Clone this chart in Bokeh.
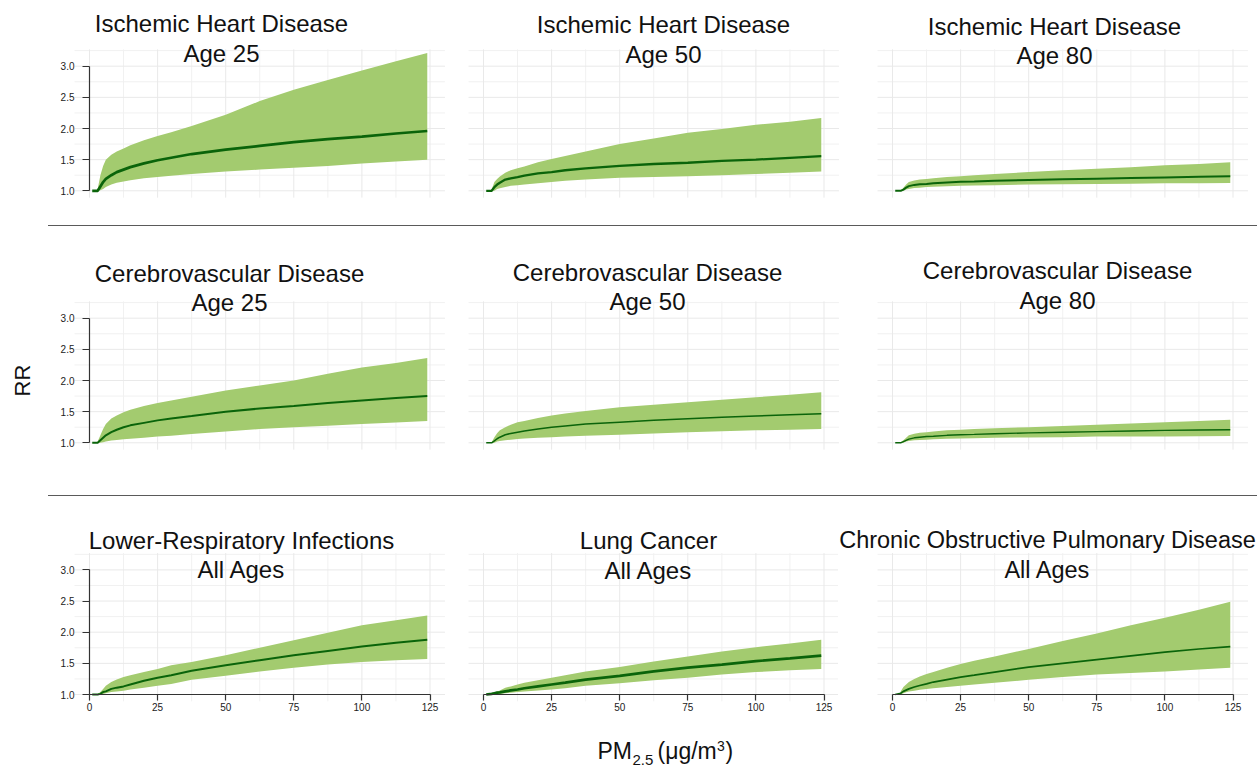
import math
from bokeh.plotting import figure
from bokeh.models import Range1d, FixedTicker, Label, Spacer, LinearAxis
from bokeh.layouts import row, column
from bokeh.embed import file_html
from bokeh.resources import INLINE

# ---------------- data ----------------
pm = [1, 3, 4, 5, 6, 8, 10, 12.5, 15, 20, 25, 30, 37.5, 50, 62.5, 75, 87.5, 100, 112.5, 124]

ihd25_mean  = [1.00, 1.00, 1.07, 1.14, 1.19, 1.25, 1.30, 1.34, 1.38, 1.44, 1.49, 1.53, 1.59, 1.66, 1.72, 1.78, 1.83, 1.87, 1.92, 1.96]
ihd25_upper = [1.00, 1.03, 1.25, 1.40, 1.50, 1.58, 1.63, 1.68, 1.73, 1.81, 1.88, 1.94, 2.04, 2.22, 2.44, 2.62, 2.78, 2.93, 3.08, 3.21]
ihd25_lower = [1.00, 1.00, 1.01, 1.03, 1.06, 1.10, 1.13, 1.15, 1.17, 1.20, 1.22, 1.24, 1.27, 1.31, 1.34, 1.37, 1.40, 1.44, 1.47, 1.50]

ihd50_mean  = [1.00, 1.00, 1.06, 1.10, 1.13, 1.18, 1.20, 1.22, 1.245, 1.28, 1.30, 1.33, 1.36, 1.40, 1.43, 1.45, 1.48, 1.50, 1.53, 1.555]
ihd50_upper = [1.00, 1.02, 1.14, 1.19, 1.23, 1.29, 1.33, 1.36, 1.39, 1.46, 1.51, 1.56, 1.63, 1.75, 1.84, 1.93, 1.99, 2.06, 2.11, 2.17]
ihd50_lower = [1.00, 1.00, 1.00, 1.03, 1.04, 1.06, 1.08, 1.09, 1.10, 1.12, 1.14, 1.16, 1.18, 1.21, 1.22, 1.235, 1.25, 1.27, 1.29, 1.31]

ihd80_mean  = [1.00, 1.00, 1.02, 1.05, 1.075, 1.095, 1.105, 1.11, 1.12, 1.135, 1.145, 1.15, 1.16, 1.175, 1.185, 1.195, 1.205, 1.215, 1.225, 1.235]
ihd80_upper = [1.00, 1.01, 1.05, 1.10, 1.14, 1.165, 1.18, 1.19, 1.20, 1.22, 1.235, 1.25, 1.27, 1.30, 1.33, 1.355, 1.38, 1.41, 1.43, 1.46]
ihd80_lower = [1.00, 1.00, 1.00, 1.02, 1.03, 1.045, 1.05, 1.06, 1.065, 1.075, 1.08, 1.085, 1.09, 1.10, 1.105, 1.11, 1.115, 1.12, 1.12, 1.125]

cvd25_mean  = [1.00, 1.00, 1.04, 1.08, 1.12, 1.17, 1.21, 1.25, 1.28, 1.32, 1.36, 1.39, 1.43, 1.50, 1.55, 1.59, 1.64, 1.68, 1.72, 1.75]
cvd25_upper = [1.00, 1.02, 1.12, 1.22, 1.30, 1.39, 1.44, 1.49, 1.53, 1.59, 1.64, 1.68, 1.74, 1.84, 1.92, 2.00, 2.11, 2.21, 2.28, 2.36]
cvd25_lower = [1.00, 1.00, 1.00, 1.01, 1.02, 1.035, 1.045, 1.055, 1.065, 1.08, 1.10, 1.115, 1.14, 1.18, 1.22, 1.25, 1.275, 1.30, 1.325, 1.35]

cvd50_mean  = [1.00, 1.00, 1.03, 1.065, 1.09, 1.13, 1.15, 1.17, 1.19, 1.22, 1.25, 1.27, 1.30, 1.33, 1.36, 1.385, 1.41, 1.43, 1.45, 1.465]
cvd50_upper = [1.00, 1.01, 1.09, 1.155, 1.20, 1.25, 1.29, 1.33, 1.35, 1.40, 1.44, 1.47, 1.51, 1.57, 1.61, 1.65, 1.69, 1.73, 1.77, 1.81]
cvd50_lower = [1.00, 1.00, 1.00, 1.02, 1.03, 1.04, 1.05, 1.06, 1.07, 1.08, 1.09, 1.10, 1.115, 1.13, 1.15, 1.17, 1.185, 1.20, 1.21, 1.22]

cvd80_mean  = [1.00, 1.00, 1.02, 1.04, 1.06, 1.08, 1.09, 1.10, 1.105, 1.12, 1.13, 1.135, 1.145, 1.16, 1.17, 1.18, 1.19, 1.20, 1.205, 1.21]
cvd80_upper = [1.00, 1.01, 1.04, 1.08, 1.12, 1.145, 1.16, 1.17, 1.18, 1.20, 1.21, 1.22, 1.235, 1.25, 1.27, 1.29, 1.31, 1.33, 1.35, 1.37]
cvd80_lower = [1.00, 1.00, 1.00, 1.02, 1.03, 1.04, 1.045, 1.05, 1.055, 1.065, 1.07, 1.075, 1.08, 1.085, 1.09, 1.10, 1.10, 1.10, 1.105, 1.11]

lri_mean  = [1.00, 1.00, 1.01, 1.04, 1.05, 1.09, 1.11, 1.13, 1.16, 1.22, 1.27, 1.31, 1.38, 1.47, 1.55, 1.63, 1.70, 1.77, 1.83, 1.88]
lri_upper = [1.00, 1.01, 1.04, 1.09, 1.14, 1.20, 1.24, 1.28, 1.31, 1.36, 1.41, 1.47, 1.52, 1.63, 1.75, 1.87, 1.99, 2.11, 2.19, 2.27]
lri_lower = [1.00, 1.00, 1.00, 1.01, 1.02, 1.04, 1.05, 1.06, 1.08, 1.11, 1.14, 1.17, 1.235, 1.30, 1.37, 1.43, 1.48, 1.52, 1.55, 1.57]

lc_mean  = [1.00, 1.01, 1.02, 1.03, 1.035, 1.05, 1.065, 1.08, 1.10, 1.13, 1.16, 1.19, 1.24, 1.30, 1.37, 1.43, 1.48, 1.535, 1.58, 1.625]
lc_upper = [1.00, 1.015, 1.03, 1.05, 1.065, 1.11, 1.13, 1.16, 1.19, 1.23, 1.27, 1.31, 1.37, 1.44, 1.53, 1.61, 1.69, 1.76, 1.82, 1.88]
lc_lower = [1.00, 1.00, 1.00, 1.005, 1.01, 1.02, 1.03, 1.04, 1.05, 1.065, 1.08, 1.10, 1.14, 1.18, 1.23, 1.27, 1.32, 1.36, 1.39, 1.41]

copd_mean  = [1.00, 1.02, 1.05, 1.07, 1.09, 1.12, 1.145, 1.17, 1.20, 1.24, 1.28, 1.31, 1.36, 1.44, 1.50, 1.56, 1.62, 1.68, 1.73, 1.77]
copd_upper = [1.00, 1.05, 1.12, 1.16, 1.20, 1.25, 1.29, 1.33, 1.36, 1.43, 1.49, 1.54, 1.61, 1.73, 1.86, 1.98, 2.11, 2.23, 2.36, 2.49]
copd_lower = [1.00, 1.00, 1.02, 1.035, 1.05, 1.06, 1.075, 1.09, 1.10, 1.12, 1.14, 1.16, 1.19, 1.235, 1.28, 1.32, 1.345, 1.37, 1.40, 1.43]

titles_line1 = ["Ischemic Heart Disease", "Ischemic Heart Disease", "Ischemic Heart Disease",
                "Cerebrovascular Disease", "Cerebrovascular Disease", "Cerebrovascular Disease",
                "Lower-Respiratory Infections", "Lung Cancer", "Chronic Obstructive Pulmonary Disease"]
titles_line2 = ["Age 25", "Age 50", "Age 80", "Age 25", "Age 50", "Age 80",
                "All Ages", "All Ages", "All Ages"]

x_ticks = [0, 25, 50, 75, 100, 125]
x_tick_labels = ["0", "25", "50", "75", "100", "125"]
x_minor = [12.5, 37.5, 62.5, 87.5, 112.5]
y_ticks = [1.0, 1.5, 2.0, 2.5, 3.0]
y_tick_labels = ["1.0", "1.5", "2.0", "2.5", "3.0"]
y_minor = [1.25, 1.75, 2.25, 2.75, 3.25]

panels = [
    (ihd25_mean, ihd25_lower, ihd25_upper), (ihd50_mean, ihd50_lower, ihd50_upper), (ihd80_mean, ihd80_lower, ihd80_upper),
    (cvd25_mean, cvd25_lower, cvd25_upper), (cvd50_mean, cvd50_lower, cvd50_upper), (cvd80_mean, cvd80_lower, cvd80_upper),
    (lri_mean, lri_lower, lri_upper), (lc_mean, lc_lower, lc_upper), (copd_mean, copd_lower, copd_upper),
]

# ---------------- layout / style ----------------
BAND_FILL = "#a3cb6f"
LINE_COL = "#0a640a"
FONT = "Liberation Sans"
GRID_X = (-5.5, 130.5)   # extent of the panel grid (data units)
GRID_Y = (0.89, 3.27)
SX, SY = 2.724, 62.3     # pixels per data unit
X0 = [89, 483, 892]      # page x of PM = 0 in each column
Y1 = [190.3, 442.3, 694.0]   # page y of RR = 1 in each row
bands = [(0, 225), (226, 495), (496, 768)]
cols = [[(0, 462), (462, 870), (870, 1257)],
        [(0, 462), (462, 870), (870, 1257)],
        [(0, 462), (462, 838), (838, 1257)]]
CAP_MID = 0.358          # cap-height middle above the baseline, in em

line_widths = [2.7, 2.3, 2.0, 2.0, 1.5, 1.4, 2.0, 2.7, 1.7]
# title placement in page pixels: (center x, baseline line 1, baseline line 2, font size)
title_pos = [(221, 32, 62, 24), (663, 33, 63, 24), (1054, 35, 64, 24),
             (229, 282, 311, 24), (647, 281, 310, 24), (1057, 279, 309, 24),
             (241, 549, 578, 24), (648, 549, 579, 24), (1047, 548, 578, 23.5)]


def make_panel(i):
    r, c = divmod(i, 3)
    top, bot = bands[r]
    left, right = cols[r][c]
    x0, y1 = X0[c], Y1[r]

    def to_data(px, py):
        return (px - x0) / SX, 1.0 + (y1 - py) / SY

    xl, yb = to_data(left, bot)
    xr, yt = to_data(right, top)
    p = figure(width=right - left, height=bot - top,
               x_range=Range1d(xl, xr), y_range=Range1d(yb, yt),
               x_axis_location=None, y_axis_location=None,
               toolbar_location=None, output_backend="svg",
               min_border_left=0, min_border_right=0, min_border_top=0, min_border_bottom=0)
    p.outline_line_color = None
    p.background_fill_color = "white"
    p.border_fill_color = "white"
    p.grid.visible = False

    # panel grid (limited to the panel area)
    p.segment(x0=x_minor, x1=x_minor, y0=[GRID_Y[0]] * len(x_minor), y1=[GRID_Y[1]] * len(x_minor),
              line_color="#f1f1f1", line_width=1)
    p.segment(x0=[GRID_X[0]] * len(y_minor), x1=[GRID_X[1]] * len(y_minor), y0=y_minor, y1=y_minor,
              line_color="#f1f1f1", line_width=1)
    p.segment(x0=x_ticks, x1=x_ticks, y0=[GRID_Y[0]] * len(x_ticks), y1=[GRID_Y[1]] * len(x_ticks),
              line_color="#e9e9e9", line_width=1)
    p.segment(x0=[GRID_X[0]] * len(y_ticks), x1=[GRID_X[1]] * len(y_ticks), y0=y_ticks, y1=y_ticks,
              line_color="#e9e9e9", line_width=1)

    mean, lower, upper = panels[i]
    p.varea(x=pm[1:], y1=lower[1:], y2=upper[1:], fill_color=BAND_FILL, fill_alpha=1.0)
    p.line(x=pm, y=mean, line_color=LINE_COL, line_width=line_widths[i])

    ax_style = dict(axis_line_color="#333333", axis_line_width=1.2,
                    major_tick_line_color="#333333", major_tick_line_width=1.2,
                    minor_tick_out=0, minor_tick_in=0, major_tick_in=0,
                    major_label_text_font=FONT, major_label_text_font_size="10px",
                    major_label_text_color="#222222")
    if c == 0:
        ya = LinearAxis(fixed_location=0, bounds=(1.0, 3.0),
                        ticker=FixedTicker(ticks=y_ticks),
                        major_label_overrides={t: s for t, s in zip(y_ticks, y_tick_labels)},
                        major_tick_out=7, major_label_standoff=8, **ax_style)
        p.add_layout(ya, "left")
    if r == 2:
        xa = LinearAxis(fixed_location=1.0, bounds=(0, 125),
                        ticker=FixedTicker(ticks=x_ticks),
                        major_label_overrides={t: s for t, s in zip(x_ticks, x_tick_labels)},
                        major_tick_out=6, major_label_standoff=2, **ax_style)
        p.add_layout(xa, "below")

    def add_text(txt, px, baseline, fs, align="center"):
        dx, dy = to_data(px, baseline - CAP_MID * fs)
        p.add_layout(Label(x=dx, y=dy, text=txt, text_align=align, text_baseline="middle",
                           text_font=FONT, text_font_size=f"{fs}px", text_color="#111111"))

    cx, b1, b2, fs = title_pos[i]
    add_text(titles_line1[i], cx, b1, fs)
    add_text(titles_line2[i], cx, b2, fs)

    if i == 3:
        dx, dy = to_data(22, 380)
        p.add_layout(Label(x=dx, y=dy, text="RR", angle=math.pi / 2, text_align="center",
                           text_baseline="middle", text_font=FONT, text_font_size="22px",
                           text_color="#111111"))
    if i == 7:
        parts = [("PM", 597, 759, 23), ("2.5", 632, 765, 15), ("(\u03bcg/m", 657, 759, 23),
                 ("3", 716.5, 751, 14), (")", 725, 759, 23)]
        for txt, px, base, fs2 in parts:
            add_text(txt, px, base, fs2, align="left")
    return p


figs = [make_panel(i) for i in range(9)]


def separator():
    return row(Spacer(width=48, height=1),
               Spacer(width=1209, height=1, styles={"background-color": "#5a5a5a"}))


layout = column(row(*figs[0:3]), separator(),
                row(*figs[3:6]), separator(),
                row(*figs[6:9]))

open("out.html", "w").write(file_html(layout, INLINE))
